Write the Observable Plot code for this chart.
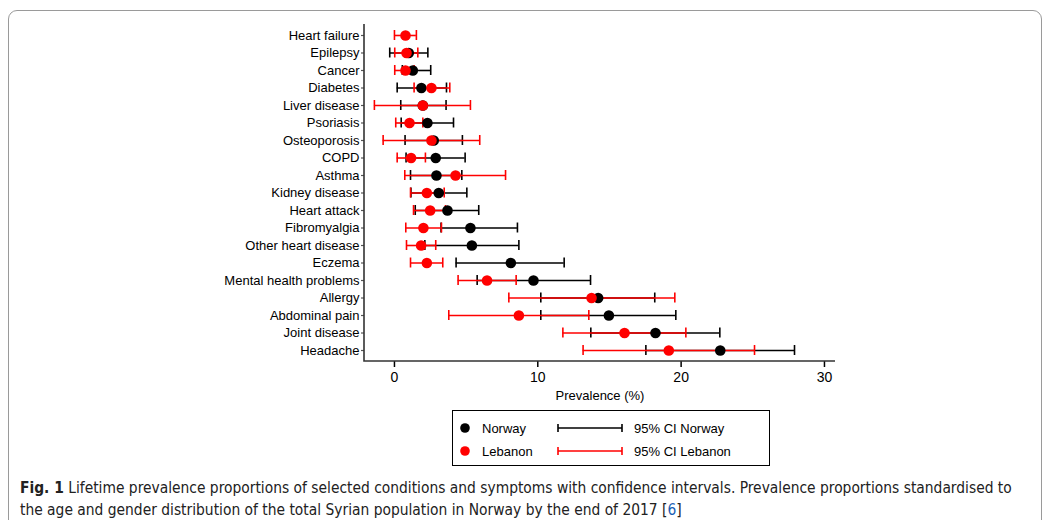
<!DOCTYPE html>
<html><head><meta charset="utf-8">
<script src="https://cdn.jsdelivr.net/npm/d3@7"></script>
<script src="https://cdn.jsdelivr.net/npm/@observablehq/plot@0.6"></script>
<style>
body{margin:0;background:#fff;width:1050px;height:520px;overflow:hidden;position:relative;font-family:"Liberation Sans",Arial,sans-serif}
#border{position:absolute;left:8px;top:10px;width:1034px;height:560px;border:1px solid #9a9a9a;border-radius:9px;box-sizing:border-box;pointer-events:none}
#chart{position:absolute;left:0;top:0}
#legend{position:absolute;left:452px;top:410px}
#caption{position:absolute;left:20px;top:477px;font-family:"DejaVu Sans Condensed","Open Sans",sans-serif;font-size:15.4px;line-height:22px;color:#222;white-space:nowrap}
#caption b{font-weight:bold}
#caption a{color:#1a5fb4;text-decoration:none}
</style></head>
<body>
<div id="chart"></div>
<div id="legend"></div>
<div id="caption"><b>Fig. 1</b> Lifetime prevalence proportions of selected conditions and symptoms with confidence intervals. Prevalence proportions standardised to<br>the age and gender distribution of the total Syrian population in Norway by the end of 2017 [<a>6</a>]</div>
<div id="border"></div>
<script>
const conditions = ["Heart failure","Epilepsy","Cancer","Diabetes","Liver disease","Psoriasis","Osteoporosis","COPD","Asthma","Kidney disease","Heart attack","Fibromyalgia","Other heart disease","Eczema","Mental health problems","Allergy","Abdominal pain","Joint disease","Headache"];
const norwayPrev = [null,1.00,1.28,1.88,1.98,2.30,2.74,2.88,2.93,3.09,3.70,5.30,5.40,8.12,9.70,14.21,14.96,18.21,22.73];
const norwayLo   = [null,-0.33,0.55,0.19,0.44,0.47,0.74,0.81,1.12,1.15,1.45,3.25,2.12,4.30,5.77,10.21,10.21,13.70,17.54];
const norwayHi   = [null,2.33,2.53,3.63,3.60,4.12,4.74,4.93,4.70,5.05,5.88,8.58,8.68,11.84,13.68,18.16,19.63,22.70,27.91];
const lebanonPrev = [0.77,0.84,0.77,2.58,1.98,1.05,2.58,1.16,4.26,2.26,2.49,2.02,1.86,2.26,6.46,13.75,8.68,16.05,19.14];
const lebanonLo   = [0.00,0.02,0.02,1.37,-1.40,0.09,-0.79,0.19,0.72,1.12,1.33,0.79,0.84,1.12,4.44,7.98,3.79,11.75,13.16];
const lebanonHi   = [1.53,1.63,1.37,3.86,5.30,1.98,5.95,2.16,7.75,3.47,3.56,3.28,2.88,3.37,8.49,19.56,13.56,20.33,25.12];
const xTicks = [0,10,20,30];
const seriesNames = ["Norway","Lebanon"];
const seriesColors = ["#000000","#ff0000"];

const norway = conditions.map((c,i)=>({c, p:norwayPrev[i], lo:norwayLo[i], hi:norwayHi[i]})).filter(d=>d.p!==null);
const lebanon = conditions.map((c,i)=>({c, p:lebanonPrev[i], lo:lebanonLo[i], hi:lebanonHi[i]}));

// L-shaped axis lines along the left and bottom edges of the frame
const axisLines = (index, scales, values, dim) => {
  const {width, height, marginLeft, marginRight, marginTop, marginBottom} = dim;
  const p = document.createElementNS("http://www.w3.org/2000/svg", "path");
  p.setAttribute("d", `M${marginLeft},${marginTop}V${height - marginBottom}H${width - marginRight}`);
  p.setAttribute("fill", "none");
  p.setAttribute("stroke", "#333");
  p.setAttribute("stroke-width", "1.6");
  return p;
};

const chart = Plot.plot({
  width:1050, height:406,
  marginLeft:364, marginRight:215, marginTop:24, marginBottom:45,
  style:{background:"transparent", fontFamily:"'Liberation Sans', Arial, sans-serif", color:"#000"},
  x:{domain:[-2.09,30.77]},
  y:{type:"band", domain:conditions, paddingInner:0.43, paddingOuter:0.343, align:0.5, round:false},
  marks:[
    Plot.axisY({tickSize:3, tickPadding:2, fontSize:13, stroke:"#555", strokeWidth:1.2, label:null}),
    Plot.axisX({ticks:xTicks, tickSize:6, tickPadding:5, fontSize:14, strokeWidth:1.5, label:null}),
    Plot.axisX({ticks:[], tickSize:0, label:"Prevalence (%)", fontSize:13, labelAnchor:"center", labelArrow:"none", labelOffset:38}),
    axisLines,
    Plot.ruleY(norway, {y:"c", x1:"lo", x2:"hi", stroke:seriesColors[0], strokeWidth:1.6}),
    Plot.tickX(norway, {y:"c", x:"lo", stroke:seriesColors[0], strokeWidth:1.6}),
    Plot.tickX(norway, {y:"c", x:"hi", stroke:seriesColors[0], strokeWidth:1.6}),
    Plot.ruleY(lebanon, {y:"c", x1:"lo", x2:"hi", stroke:seriesColors[1], strokeWidth:1.6}),
    Plot.tickX(lebanon, {y:"c", x:"lo", stroke:seriesColors[1], strokeWidth:1.6}),
    Plot.tickX(lebanon, {y:"c", x:"hi", stroke:seriesColors[1], strokeWidth:1.6}),
    Plot.dot(norway, {y:"c", x:"p", r:5.3, fill:seriesColors[0], stroke:null}),
    Plot.dot(lebanon, {y:"c", x:"p", r:5.3, fill:seriesColors[1], stroke:null})
  ]
});
document.getElementById("chart").appendChild(chart);

// legend
const ns = "http://www.w3.org/2000/svg";
const lg = document.createElementNS(ns,"svg");
lg.setAttribute("width",320); lg.setAttribute("height",58);
let html = `<rect x="0.5" y="0.5" width="317" height="55" fill="#fff" stroke="#000" stroke-width="1"/>`;
seriesNames.forEach((n,i)=>{
  const y = 18 + i*23, col = seriesColors[i];
  html += `<circle cx="13" cy="${y}" r="4.8" fill="${col}"/>`;
  html += `<text x="30" y="${y}" dy="0.35em" font-size="13" font-family="Liberation Sans, Arial, sans-serif">${n}</text>`;
  html += `<line x1="106" x2="170" y1="${y}" y2="${y}" stroke="${col}" stroke-width="1.6"/>`;
  html += `<line x1="106" x2="106" y1="${y-4}" y2="${y+4}" stroke="${col}" stroke-width="1.6"/>`;
  html += `<line x1="170" x2="170" y1="${y-4}" y2="${y+4}" stroke="${col}" stroke-width="1.6"/>`;
  html += `<text x="182" y="${y}" dy="0.35em" font-size="13" font-family="Liberation Sans, Arial, sans-serif">95% CI ${n}</text>`;
});
lg.innerHTML = html;
document.getElementById("legend").appendChild(lg);
</script>
</body></html>
